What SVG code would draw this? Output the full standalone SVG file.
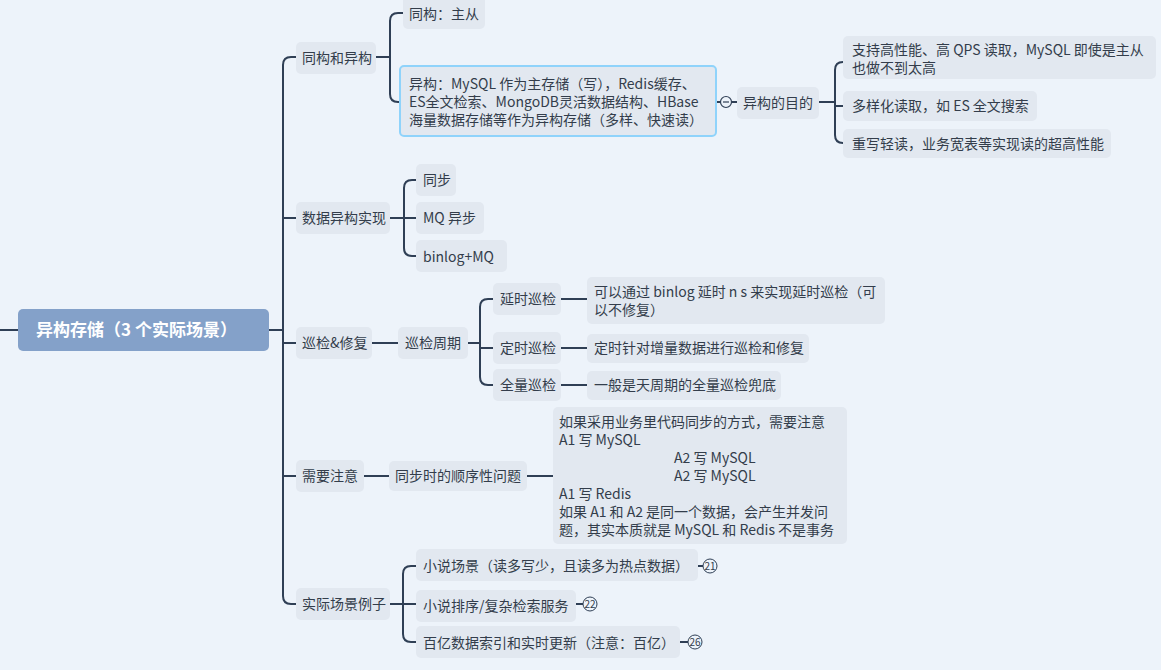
<svg xmlns="http://www.w3.org/2000/svg" width="1161" height="670" viewBox="0 0 1161 670">
<style>
text{font-family:"Noto Sans CJK SC","Noto Sans",sans-serif;font-size:14px;fill:#333d4b}
.n{fill:#e2e8f0}
.c{fill:none;stroke:#2f3f55;stroke-width:2}
.b{font-size:10px}
</style>
<rect width="1161" height="670" fill="#edf3fa"/>
<g id="connectors" class="c">
<path d="M0 330H18M269 330H283"/>
<path d="M296 57H291Q283 57 283 65V596Q283 604 291 604H296"/>
<path d="M283 218H296M283 343H296M283 476H296"/>
<path d="M376 57H390M403 13H398Q390 13 390 21V94Q390 102 398 102H400"/>
<path d="M716 102H737M819 102H835M843 62H843Q835 62 835 70V135Q835 143 843 143M835 106H843"/>
<path d="M390 218H416M424 180H412Q404 180 404 188V248Q404 256 412 256H416"/>
<path d="M372 343H398M468 343H480M493 299H488Q480 299 480 307V377Q480 385 488 385H493M480 348H493"/>
<path d="M561 299H587M561 348H587M561 385H587"/>
<path d="M364 476H389M527 476H553"/>
<path d="M390 604H416M416 566H411Q403 566 403 574V634Q403 642 411 642H416"/>
<path d="M698 566H703M576 604H583M680 642H688"/>
</g>
<g id="root"><rect x="18" y="309" width="251" height="42" rx="5" fill="#84a1c9"/><text x="36" y="336" style="font-size:17px;font-weight:bold;fill:#fff">异构存储（3 个实际场景）</text></g>
<g id="n1"><rect class="n" x="296" y="42" width="80" height="32" rx="5"/><text x="302" y="63">同构和异构</text></g>
<g id="n2"><rect class="n" x="296" y="202" width="94" height="32" rx="5"/><text x="302" y="223">数据异构实现</text></g>
<g id="n3"><rect class="n" x="296" y="327" width="76" height="32" rx="5"/><text x="302" y="348">巡检&amp;修复</text></g>
<g id="n4"><rect class="n" x="296" y="460" width="68" height="32" rx="5"/><text x="302" y="481">需要注意</text></g>
<g id="n5"><rect class="n" x="296" y="588" width="94" height="32" rx="5"/><text x="302" y="609">实际场景例子</text></g>
<g id="n11"><rect class="n" x="403" y="-4" width="82" height="33" rx="5"/><text x="409" y="19">同构：主从</text></g>
<g id="n12"><rect class="n" x="400" y="66" width="316" height="70" rx="4" stroke="#8fd3fb" stroke-width="2"/><text x="409" y="89">异构：MySQL 作为主存储（写），Redis缓存、</text><text x="409" y="107">ES全文检索、MongoDB灵活数据结构、HBase</text><text x="409" y="125">海量数据存储等作为异构存储（多样、快速读）</text></g>
<g id="collapse"><circle cx="726" cy="102" r="5.5" fill="#edf3fa" stroke="#2f3f55" stroke-width="1.2"/><path d="M723 102H729" stroke="#2f3f55" stroke-width="1.2"/></g>
<g id="n121"><rect class="n" x="737" y="87" width="82" height="32" rx="5"/><text x="743" y="108">异构的目的</text></g>
<g id="n1211"><rect class="n" x="843" y="36" width="313" height="43" rx="5"/><text x="852" y="55">支持高性能、高 QPS 读取，MySQL 即使是主从</text><text x="852" y="73">也做不到太高</text></g>
<g id="n1212"><rect class="n" x="843" y="91" width="194" height="30" rx="5"/><text x="852" y="111">多样化读取，如 ES 全文搜索</text></g>
<g id="n1213"><rect class="n" x="843" y="129" width="268" height="29" rx="5"/><text x="852" y="149">重写轻读，业务宽表等实现读的超高性能</text></g>
<g id="n21"><rect class="n" x="416" y="164" width="40" height="32" rx="5"/><text x="423" y="185">同步</text></g>
<g id="n22"><rect class="n" x="416" y="202" width="68" height="32" rx="5"/><text x="423" y="223">MQ 异步</text></g>
<g id="n23"><rect class="n" x="416" y="240" width="91" height="32" rx="5"/><text x="423" y="262">binlog+MQ</text></g>
<g id="n31"><rect class="n" x="398" y="327" width="70" height="32" rx="5"/><text x="405" y="348">巡检周期</text></g>
<g id="n311"><rect class="n" x="493" y="283" width="68" height="32" rx="5"/><text x="500" y="304">延时巡检</text></g>
<g id="n312"><rect class="n" x="493" y="332" width="68" height="32" rx="5"/><text x="500" y="353">定时巡检</text></g>
<g id="n313"><rect class="n" x="493" y="369" width="68" height="32" rx="5"/><text x="500" y="390">全量巡检</text></g>
<g id="n3111"><rect class="n" x="587" y="277" width="298" height="47" rx="5"/><text x="594" y="297">可以通过 binlog 延时 n s 来实现延时巡检（可</text><text x="594" y="315">以不修复）</text></g>
<g id="n3121"><rect class="n" x="587" y="334" width="222" height="29" rx="5"/><text x="594" y="353">定时针对增量数据进行巡检和修复</text></g>
<g id="n3131"><rect class="n" x="587" y="371" width="194" height="29" rx="5"/><text x="594" y="390">一般是天周期的全量巡检兜底</text></g>
<g id="n41"><rect class="n" x="389" y="461" width="138" height="30" rx="5"/><text x="395" y="481">同步时的顺序性问题</text></g>
<g id="n411"><rect class="n" x="553" y="407" width="294" height="137" rx="5"/>
<text x="559" y="427">如果采用业务里代码同步的方式，需要注意</text>
<text x="559" y="445">A1  写 MySQL</text>
<text x="674" y="463">A2 写 MySQL</text>
<text x="674" y="481">A2 写 MySQL</text>
<text x="559" y="499">A1 写 Redis</text>
<text x="559" y="517">如果 A1 和 A2 是同一个数据，会产生并发问</text>
<text x="559" y="535">题，其实本质就是 MySQL 和 Redis 不是事务</text></g>
<g id="n51"><rect class="n" x="416" y="549" width="282" height="32" rx="5"/><text x="423" y="571">小说场景（读多写少，且读多为热点数据）</text></g>
<g id="n52"><rect class="n" x="416" y="590" width="160" height="32" rx="5"/><text x="423" y="611">小说排序/复杂检索服务</text></g>
<g id="n53"><rect class="n" x="416" y="626" width="264" height="32" rx="5"/><text x="423" y="648">百亿数据索引和实时更新（注意：百亿）</text></g>
<g id="badges" fill="none" stroke="#2f3f55" stroke-width="1">
<circle cx="710" cy="566" r="7"/><circle cx="590" cy="604" r="7"/><circle cx="695" cy="642" r="7"/>
</g>
<text class="b" x="710" y="569.5" text-anchor="middle">21</text>
<text class="b" x="590" y="607.5" text-anchor="middle">22</text>
<text class="b" x="695" y="645.5" text-anchor="middle">26</text>
</svg>
